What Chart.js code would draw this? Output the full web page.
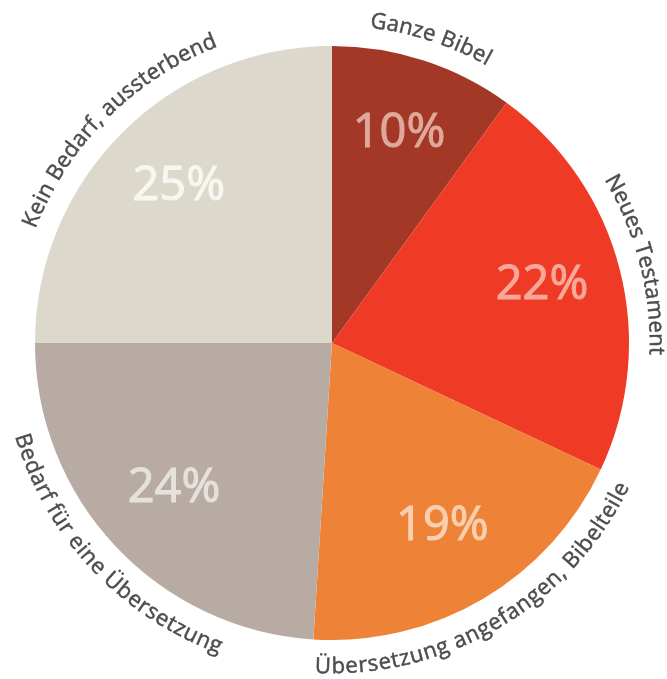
<!DOCTYPE html>
<html>
<head>
<meta charset="utf-8">
<script src="https://cdn.jsdelivr.net/npm/chart.js@4.4.1/dist/chart.umd.min.js"></script>
<style>
html,body{margin:0;padding:0;background:#fff;}
#wrap{width:667px;height:679px;}
</style>
</head>
<body>
<div id="wrap"><canvas id="c" width="667" height="679"></canvas></div>
<script>
const categories = ["Ganze Bibel", "Neues Testament", "Übersetzung angefangen, Bibelteile", "Bedarf für eine Übersetzung", "Kein Bedarf, aussterbend"];
const values = [10, 22, 19, 24, 25];
const percentLabels = ["10%", "22%", "19%", "24%", "25%"];
const sliceColors = ["#A33827", "#EF3B25", "#EE8236", "#B8ABA3", "#DCD9CC"];
const percentColors = ["#DFA89C", "#F8A898", "#F9CFAE", "#E5E1DD", "#F7F6F0"];
// +1: text reads clockwise (tops outward), -1: counterclockwise (tops inward)
const labelDirections = [1, 1, -1, -1, 1];

const TRACK = 0.5;
function drawArcText(ctx, text, cx, cy, r, midAngle, dir) {
  const total = ctx.measureText(text).width + TRACK * (text.length - 1);
  const span = total / r;
  let start = midAngle - dir * span / 2;
  for (let i = 0; i < text.length; i++) {
    const pre = ctx.measureText(text.slice(0, i)).width + TRACK * i;
    const cw = ctx.measureText(text[i]).width;
    const ang = start + dir * (pre + cw / 2) / r;
    ctx.save();
    ctx.translate(cx + r * Math.cos(ang), cy + r * Math.sin(ang));
    ctx.rotate(ang + dir * Math.PI / 2);
    ctx.fillText(text[i], 0, 0);
    ctx.strokeText(text[i], 0, 0);
    ctx.restore();
  }
}

const labelPlugin = {
  id: 'labels',
  afterDatasetsDraw(chart) {
    const ctx = chart.ctx;
    const meta = chart.getDatasetMeta(0);
    meta.data.forEach((arc, i) => {
      const mid = (arc.startAngle + arc.endAngle) / 2;
      const R = arc.outerRadius;
      ctx.save();
      ctx.font = '400 47px "Open Sans"';
      ctx.fillStyle = percentColors[i];
      ctx.strokeStyle = percentColors[i];
      ctx.lineWidth = 1.1;
      ctx.textAlign = 'center';
      ctx.textBaseline = 'middle';
      const pr = R * 0.73;
      const px = arc.x + pr * Math.cos(mid), py = arc.y + pr * Math.sin(mid) - 3;
      ctx.fillText(percentLabels[i], px, py);
      ctx.strokeText(percentLabels[i], px, py);
      ctx.restore();
      ctx.save();
      ctx.font = '400 22px "Open Sans"';
      ctx.fillStyle = '#4D4D4F';
      ctx.strokeStyle = '#4D4D4F';
      ctx.lineWidth = 0.5;
      ctx.textAlign = 'center';
      ctx.textBaseline = 'middle';
      drawArcText(ctx, categories[i], arc.x, arc.y, R + 27, mid, labelDirections[i]);
      ctx.restore();
    });
  }
};

new Chart(document.getElementById('c'), {
  type: 'pie',
  data: {
    labels: categories,
    datasets: [{
      data: values,
      backgroundColor: sliceColors,
      borderWidth: 0
    }]
  },
  options: {
    responsive: false,
    animation: false,
    layout: { padding: { top: 46, bottom: 39, left: 35, right: 38 } },
    plugins: { legend: { display: false }, tooltip: { enabled: false } }
  },
  plugins: [labelPlugin]
});
</script>
</body>
</html>
